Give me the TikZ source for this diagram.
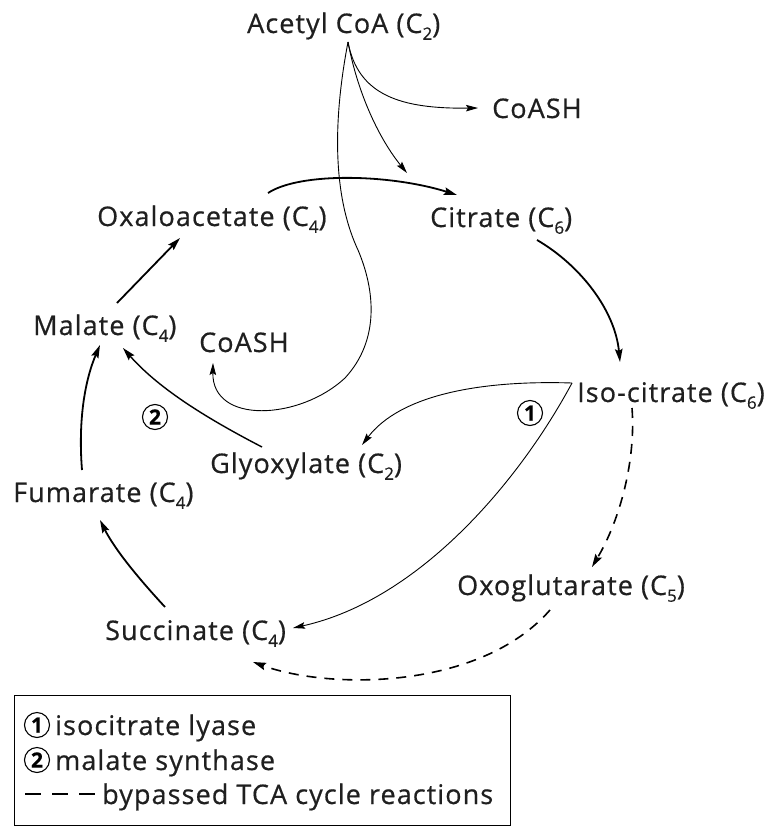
\documentclass[tikz,border=0pt]{standalone}
\usepackage{fontspec}
\setmainfont{Open Sans}[LetterSpace=4,FakeBold=0.6]
\usetikzlibrary{arrows.meta,calc}
\newcommand\csub[1]{\raisebox{-0.25em}{\fontsize{17}{17}\selectfont #1}}
\begin{document}
\begin{tikzpicture}[x=1pt,y=-1pt,font=\fontsize{27}{32}\selectfont,
  lbl/.style={anchor=base west, inner sep=0pt, text=black!88},
  thickarr/.style={line width=1.8pt, -{Stealth[length=13pt,width=7.5pt,inset=2pt]}},
  medarr/.style={line width=1.4pt, -{Stealth[length=13pt,width=7.5pt,inset=2pt]}},
  thinarr/.style={line width=0.9pt, -{Stealth[length=12pt,width=6.5pt,inset=2pt]}},
  byp/.style={line width=1.6pt, dash pattern=on 10pt off 8pt, -{Stealth[length=13pt,width=7.5pt,inset=2pt]}},
  enz/.style={circle, draw, line width=1.1pt, inner sep=0pt, minimum size=25pt, font=\fontsize{21}{21}\selectfont\bfseries}]
\useasboundingbox (0,0) rectangle (767,827);

% metabolites
\node[lbl] (acetyl)  at (247,33)  {Acetyl CoA (C\csub{2})};
\node[lbl] (coashA)  at (492,118) {CoASH};
\node[lbl] (oxalo)   at (97,226)  {Oxaloacetate (C\csub{4})};
\node[lbl] (citrate) at (430,227) {Citrate (C\csub{6})};
\node[lbl] (malate)  at (33,335)  {Malate (C\csub{4})};
\node[lbl] (coashB)  at (199,352) {CoASH};
\node[lbl] (iso)     at (577,402) {Iso-citrate (C\csub{6})};
\node[lbl] (glyox)   at (210,473) {Glyoxylate (C\csub{2})};
\node[lbl] (fum)     at (13,502)  {Fumarate (C\csub{4})};
\node[lbl] (oxog)    at (457,595) {Oxoglutarate (C\csub{5})};
\node[lbl] (succ)    at (105,640) {Succinate (C\csub{4})};
\node[enz] (e1) at (530,413) {1};
\node[enz] (e2) at (155,417) {2};

\coordinate (apex) at ([shift={(101,9)}]acetyl.base west);
\coordinate (isoj) at ([shift={(-5,-19)}]iso.base west);

% TCA / glyoxylate cycle
\draw[thickarr] ([shift={(84,-32)}]malate.base west) -- ([shift={(83,12)}]oxalo.base west);
\draw[thickarr] ([shift={(171,-33)}]oxalo.base west) .. controls (300,172) and (390,174) .. ([shift={(27,-32)}]citrate.base west);
\draw[thickarr] ([shift={(107,13)}]citrate.base west) .. controls (580,265) and (615,310) .. ([shift={(43,-40)}]iso.base west);
\draw[thickarr] ([shift={(60,-33)}]succ.base west) .. controls (140,580) and (115,550) .. ([shift={(87,18)}]fum.base west);
\draw[thickarr] ([shift={(69,-32)}]fum.base west) .. controls (78,420) and (85,380) .. ([shift={(67,10)}]malate.base west);
\draw[medarr] ([shift={(52,-26)}]glyox.base west) .. controls (210,420) and (160,390) .. ([shift={(90,13)}]malate.base west);

% acetyl CoA
\draw[thinarr] (apex) .. controls (358,95) and (400,109) .. ([shift={(-14,-10)}]coashA.base west);
\draw[thinarr] (apex) .. controls (358,95) and (380,140) .. ([shift={(-23,-54)}]citrate.base west);
\draw[thinarr] (apex) .. controls (335,110) and (330,190) .. (358,250)
  .. controls (375,290) and (380,340) .. (345,378)
  .. controls (300,420) and (212,425) .. ([shift={(14,11)}]coashB.base west);

% isocitrate lyase
\draw[thinarr] (isoj) .. controls (480,380) and (400,395) .. ([shift={(152,-28)}]glyox.base west);
\draw[thinarr] (isoj) .. controls (520,480) and (420,600) .. ([shift={(188,-12)}]succ.base west);

% bypassed
\draw[byp] ([shift={(55,6)}]iso.base west) .. controls (636,460) and (620,520) .. ([shift={(135,-28)}]oxog.base west);
\draw[byp] ([shift={(93,15)}]oxog.base west) .. controls (480,690) and (330,690) .. ([shift={(148,22)}]succ.base west);

% legend
\node[draw, line width=1.2pt, anchor=north west, minimum width=496pt, minimum height=130pt, inner sep=0pt] (legend) at (14,695) {};
\node[enz] (l1) at (37,725) {1};
\node[lbl] (l1t) at (55,735) {isocitrate lyase};
\node[enz] (l2) at (37,760) {2};
\node[lbl] (l2t) at (55,770) {malate synthase};
\coordinate (d0) at (25,794);
\coordinate (d1) at (95,794);
\draw[line width=2.4pt, dash pattern=on 16pt off 11pt] (d0) -- (d1);
\node[lbl] (l3t) at (102,804) {bypassed TCA cycle reactions};
\end{tikzpicture}
\end{document}
